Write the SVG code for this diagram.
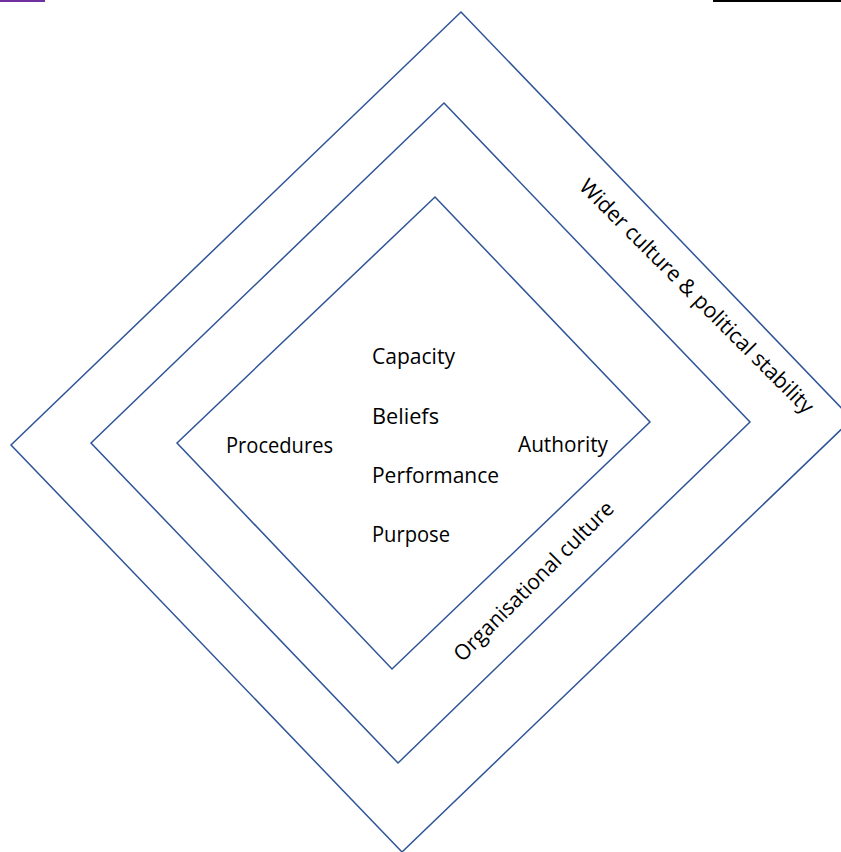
<svg xmlns="http://www.w3.org/2000/svg" width="841" height="852" viewBox="0 0 841 852">
  <style>
    .frame { fill: none; stroke: #2F5597; stroke-width: 1.5; stroke-linejoin: miter; }
    .lbl { font-family: "Open Sans", "Liberation Sans", sans-serif; font-size: 21.5px; fill: #000000; }
  </style>
  <rect x="0" y="0" width="841" height="852" fill="#ffffff"/>
  <g id="header-fragments">
    <rect x="0" y="0" width="45" height="2" fill="#7030A0"/>
    <rect x="713" y="0" width="128" height="2" fill="#000000"/>
  </g>
  <g id="outer-layer">
    <polygon class="frame" points="461,12 852,419 402,852 11,445"/>
    <text class="lbl" transform="translate(578,188) rotate(45)" textLength="321" lengthAdjust="spacingAndGlyphs">Wider culture &amp; political stability</text>
  </g>
  <g id="middle-layer">
    <polygon class="frame" points="444,103 750,422 398,763 91,443"/>
    <text class="lbl" transform="translate(462.5,662.7) rotate(-45)" textLength="216" lengthAdjust="spacingAndGlyphs">Organisational culture</text>
  </g>
  <g id="inner-layer">
    <polygon class="frame" points="435,197 650,422 392,669 177,443"/>
  </g>
  <g id="inner-labels">
    <text id="capacity" class="lbl" x="372" y="364" textLength="83" lengthAdjust="spacingAndGlyphs">Capacity</text>
    <text id="beliefs" class="lbl" x="372" y="424" textLength="67" lengthAdjust="spacingAndGlyphs">Beliefs</text>
    <text id="performance" class="lbl" x="372" y="483" textLength="127" lengthAdjust="spacingAndGlyphs">Performance</text>
    <text id="purpose" class="lbl" x="372" y="542" textLength="78" lengthAdjust="spacingAndGlyphs">Purpose</text>
    <text id="procedures" class="lbl" x="226" y="453" textLength="107" lengthAdjust="spacingAndGlyphs">Procedures</text>
    <text id="authority" class="lbl" x="518" y="452" textLength="90" lengthAdjust="spacingAndGlyphs">Authority</text>
  </g>
</svg>
